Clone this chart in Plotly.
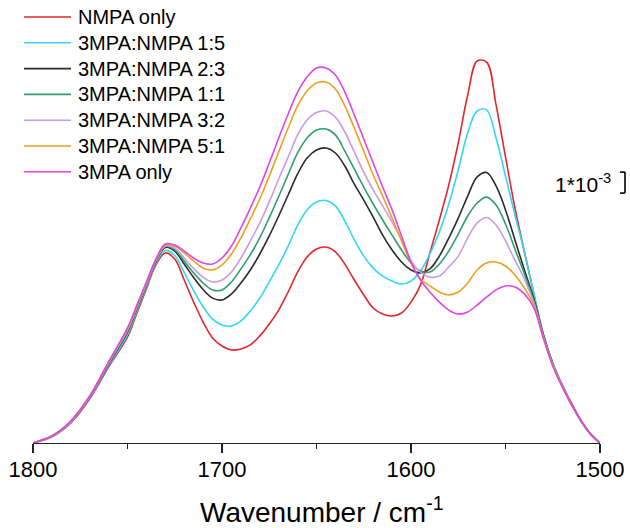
import plotly.graph_objects as go

# Wavenumber grid (cm^-1)
wavenumber = [1800, 1790, 1780, 1770, 1760,
              1750, 1745, 1740, 1735, 1730, 1725, 1720, 1715, 1710, 1705,
              1700, 1695, 1690, 1685, 1680, 1675, 1670, 1665, 1660, 1655,
              1650, 1645, 1640, 1635, 1630, 1625, 1620, 1615, 1610, 1605,
              1600, 1595, 1590, 1585, 1580, 1575, 1570, 1565, 1560, 1555,
              1550, 1545, 1540, 1535, 1530, 1525, 1520, 1515, 1510, 1505, 1500]

# Absorbance in units of 1e-3
nmpa_only = [0, 0.29, 0.95, 2.10, 3.62,
             5.05, 6.19, 7.33, 8.48, 9.05, 8.76, 7.76, 6.71, 5.76, 5.00,
             4.62, 4.43, 4.48, 4.67, 5.10, 5.67, 6.33, 7.19, 8.14, 8.86,
             9.24, 9.33, 9.10, 8.52, 7.76, 7.05, 6.43, 6.14, 6.05, 6.19,
             6.71, 7.52, 9.05, 10.62, 12.29, 14.29, 16.57, 18.19, 18.14, 16.10,
             13.62, 11.19, 9.10, 7.10, 5.19, 3.81, 2.76, 1.86, 1.05, 0.43, 0]
ratio_1_5 = [0, 0.29, 0.98, 2.14, 3.68,
             5.16, 6.29, 7.42, 8.55, 9.17, 8.93, 8.12, 7.26, 6.49, 5.90,
             5.62, 5.57, 5.81, 6.29, 6.90, 7.67, 8.48, 9.38, 10.38, 11.10,
             11.48, 11.55, 11.29, 10.57, 9.67, 8.90, 8.33, 7.95, 7.71, 7.57,
             7.71, 8.19, 9.00, 10.05, 11.38, 13.00, 14.76, 15.81, 15.86, 14.52,
             12.71, 10.86, 9.10, 7.10, 5.19, 3.81, 2.76, 1.86, 1.05, 0.43, 0]
ratio_2_3 = [0, 0.33, 1.00, 2.18, 3.75,
             5.29, 6.40, 7.52, 8.63, 9.31, 9.14, 8.52, 7.88, 7.31, 6.90,
             6.81, 7.10, 7.62, 8.24, 9.00, 9.86, 10.81, 11.81, 12.81, 13.57,
             13.95, 14.05, 13.81, 13.19, 12.33, 11.57, 10.76, 9.90, 9.19, 8.62,
             8.24, 8.10, 8.29, 8.90, 9.76, 10.71, 11.76, 12.67, 12.88, 12.24,
             11.10, 9.67, 8.24, 6.86, 5.14, 3.76, 2.74, 1.86, 1.05, 0.43, 0]
ratio_1_1 = [0, 0.33, 1.01, 2.19, 3.78,
             5.33, 6.44, 7.55, 8.67, 9.36, 9.20, 8.67, 8.10, 7.62, 7.29,
             7.29, 7.67, 8.29, 8.97, 9.78, 10.73, 11.74, 12.79, 13.81, 14.52,
             14.90, 14.95, 14.67, 13.90, 13.05, 12.19, 11.38, 10.62, 9.90, 9.19,
             8.57, 8.19, 8.14, 8.52, 9.14, 9.95, 10.81, 11.43, 11.71, 11.33,
             10.43, 9.24, 8.05, 6.76, 5.10, 3.76, 2.74, 1.86, 1.05, 0.43, 0]
ratio_3_2 = [0, 0.33, 1.02, 2.20, 3.81,
             5.38, 6.48, 7.57, 8.69, 9.38, 9.29, 8.81, 8.31, 7.90, 7.67,
             7.76, 8.14, 8.81, 9.62, 10.48, 11.48, 12.57, 13.62, 14.67, 15.38,
             15.74, 15.81, 15.52, 14.81, 13.86, 12.90, 12.05, 11.29, 10.52, 9.67,
             8.67, 8.14, 7.90, 7.95, 8.38, 8.90, 9.76, 10.48, 10.74, 10.38,
             9.62, 8.71, 7.81, 6.67, 5.05, 3.74, 2.71, 1.83, 1.05, 0.43, 0]
ratio_5_1 = [0, 0.33, 1.05, 2.24, 3.86,
             5.43, 6.52, 7.62, 8.71, 9.43, 9.38, 9.05, 8.67, 8.33, 8.24,
             8.48, 9.00, 9.76, 10.67, 11.62, 12.71, 13.86, 15.00, 16.05, 16.76,
             17.14, 17.19, 16.86, 16.05, 15.00, 13.90, 12.76, 11.76, 10.71, 9.62,
             8.57, 7.81, 7.48, 7.19, 7.05, 7.19, 7.62, 8.24, 8.57, 8.62,
             8.43, 8.00, 7.38, 6.57, 5.05, 3.71, 2.71, 1.81, 1.05, 0.43, 0]
mpa3_only = [0, 0.33, 1.05, 2.24, 3.86,
             5.48, 6.57, 7.67, 8.76, 9.48, 9.43, 9.14, 8.81, 8.57, 8.52,
             8.81, 9.38, 10.24, 11.19, 12.19, 13.33, 14.52, 15.67, 16.71, 17.43,
             17.86, 17.86, 17.52, 16.71, 15.62, 14.48, 13.33, 12.19, 11.10, 9.86,
             8.62, 7.76, 7.19, 6.71, 6.33, 6.14, 6.24, 6.57, 6.95, 7.29,
             7.48, 7.43, 7.10, 6.43, 5.00, 3.67, 2.67, 1.81, 1.05, 0.43, 0]

series_names = ["NMPA only", "3MPA:NMPA 1:5", "3MPA:NMPA 2:3", "3MPA:NMPA 1:1",
                "3MPA:NMPA 3:2", "3MPA:NMPA 5:1", "3MPA only"]
series_values = [nmpa_only, ratio_1_5, ratio_2_3, ratio_1_1, ratio_3_2, ratio_5_1, mpa3_only]
series_colors = ["#e4262b", "#33d6f3", "#2b2b2b", "#2e9e6c", "#c89be4", "#e9a21f", "#e043e8"]

x_ticks = [1800, 1700, 1600, 1500]
x_minor_ticks = [1750, 1650, 1550]
scale_bar_value = 1.0   # 1e-3 absorbance units
scale_bar_base = 11.9

FONT = "Liberation Sans, Arial, sans-serif"

W, H = 630, 528
ml, mr, mt, mb = 33, 30, 20, 85
pw, ph = W - ml - mr, H - mt - mb
px_per_unit = 21.0
y_top = ph / px_per_unit

fig = go.Figure()
for name, vals, col in zip(series_names, series_values, series_colors):
    fig.add_trace(go.Scatter(x=wavenumber, y=vals, mode="lines", name=name,
                             line=dict(color=col, width=1.6, shape="spline", smoothing=1.0),
                             showlegend=False, hoverinfo="skip"))


def px_to_paper_x(px):
    return (px - ml) / pw


def px_to_paper_y(py):
    return (H - mb - py) / ph


def data_to_paper_y(v):
    return v / y_top


shapes = []
annotations = []
# legend drawn as line samples + text
row0, row_gap = 17, 25.8
for i, (name, col) in enumerate(zip(series_names, series_colors)):
    yy = px_to_paper_y(row0 + i * row_gap)
    shapes.append(dict(type="line", xref="paper", yref="paper",
                       x0=px_to_paper_x(24), x1=px_to_paper_x(71), y0=yy, y1=yy,
                       line=dict(color=col, width=1.6)))
    annotations.append(dict(text=name, xref="paper", yref="paper", x=px_to_paper_x(76), y=yy,
                            xanchor="left", yanchor="middle", showarrow=False,
                            font=dict(family=FONT, size=20, color="#000")))

# scale bar (1e-3)
xb = px_to_paper_x(625)
xc = px_to_paper_x(620)
yb0 = data_to_paper_y(scale_bar_base)
yb1 = data_to_paper_y(scale_bar_base + scale_bar_value)
shapes.append(dict(type="line", xref="paper", yref="paper", x0=xb, x1=xb, y0=yb0, y1=yb1,
                   line=dict(color="#000", width=1.6)))
for yv in (yb0, yb1):
    shapes.append(dict(type="line", xref="paper", yref="paper", x0=xc, x1=xb, y0=yv, y1=yv,
                       line=dict(color="#000", width=1.6)))
annotations.append(dict(text="1*10<sup>-3</sup>", xref="paper", yref="paper",
                        x=px_to_paper_x(613), y=(yb0 + yb1) / 2,
                        xanchor="right", yanchor="middle", showarrow=False,
                        font=dict(family=FONT, size=21, color="#000")))

# x-axis title
annotations.append(dict(text="Wavenumber / cm<sup>-1</sup>", xref="paper", yref="paper",
                        x=px_to_paper_x(322), y=px_to_paper_y(510),
                        xanchor="center", yanchor="middle", showarrow=False,
                        font=dict(family=FONT, size=28, color="#000")))

fig.update_layout(
    width=W, height=H,
    margin=dict(l=ml, r=mr, t=mt, b=mb, autoexpand=False),
    paper_bgcolor="white", plot_bgcolor="white",
    shapes=shapes, annotations=annotations,
    hovermode=False,
    xaxis=dict(range=[1800, 1500], tickvals=x_ticks, ticks="outside", ticklen=9, tickwidth=1.3,
               tickcolor="#222", showline=True, linecolor="#222", linewidth=1.3,
               showgrid=False, zeroline=False, automargin=False, ticklabelstandoff=-3,
               tickfont=dict(family=FONT, size=22, color="#000"),
               minor=dict(tickvals=x_minor_ticks, ticks="outside", ticklen=5, tickwidth=1.3,
                          tickcolor="#222", showgrid=False)),
    yaxis=dict(range=[0, y_top], visible=False, showgrid=False, zeroline=False, automargin=False),
)

# remove the browser's default page margin so the 630x528 figure fills the window
fig.write_html("out.html",
               config={"displayModeBar": False, "staticPlot": True},
               post_script="document.body.style.margin='0';document.body.style.padding='0';"
                           "document.body.style.overflow='hidden';")
